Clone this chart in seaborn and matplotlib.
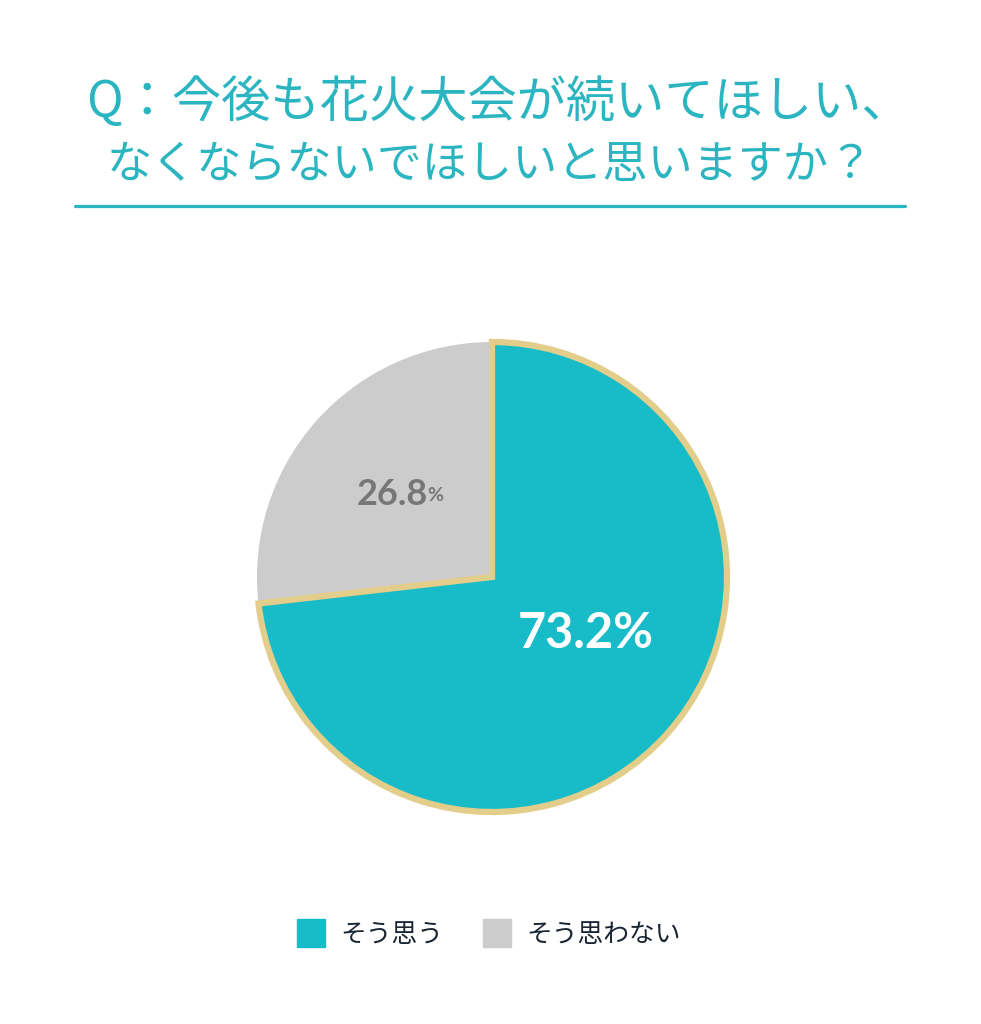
import numpy as np
import seaborn as sns
import matplotlib.pyplot as plt
from matplotlib.lines import Line2D

# donnees du graphique
categories = ['そう思う', 'そう思わない']
valeurs = [73.2, 26.8]
couleurs = ['#17bcc8', '#cccccc']
titre_lignes = ['Q：今後も花火大会が続いてほしい、', 'なくならないでほしいと思いますか？']

sns.set_style('white')
plt.rcParams['font.family'] = ['Noto Sans CJK JP', 'DejaVu Sans']

fig = plt.figure(figsize=(9.81, 10.24), dpi=100)

# titre
fig.text(0.5 + 8 / 981, 1 - 103 / 1024, titre_lignes[0], ha='center', va='center',
         fontsize=35.5, color='#2bb5c0')
fig.text(0.5, 1 - 165 / 1024, titre_lignes[1], ha='center', va='center',
         fontsize=32.5, color='#2bb5c0')
fig.add_artist(Line2D([75 / 981, 905 / 981], [1 - 206 / 1024] * 2,
                      color='#2bb5c0', lw=2.3))

# camembert
ax = fig.add_axes([257 / 981, (1024 - 577 - 235) / 1024, 470 / 981, 470 / 1024])
wedges, _ = ax.pie(valeurs, colors=couleurs, startangle=90, counterclock=False,
                   wedgeprops=dict(linewidth=0))
wedges[0].set_edgecolor('#e2cd8a')
wedges[0].set_linewidth(4.5)
wedges[0].set_zorder(3)
wedges[1].set_zorder(2)
for w in wedges:
    w.set_clip_on(False)
ax.set_xlim(-1, 1)
ax.set_ylim(-1, 1)
ax.set_aspect('equal')

# etiquettes
ax.text(0.40, -0.24, f'{valeurs[0]}%', ha='center', va='center',
        fontsize=35, fontweight='bold', color='white', family='Lato', zorder=5)
ax.text(-0.275, 0.353, f'{valeurs[1]}', ha='right', va='center',
        fontsize=26, fontweight='bold', color='#777777', family='Lato', zorder=5)
ax.text(-0.275, 0.345, '%', ha='left', va='center',
        fontsize=14, fontweight='bold', color='#777777', family='Lato', zorder=5)

# legende
poignees = [Line2D([], [], marker='s', linestyle='', markersize=20,
                   markerfacecolor=c, markeredgecolor=c) for c in couleurs]
fig.legend(poignees, categories, loc='center', bbox_to_anchor=(0.498, 1 - 935 / 1024),
           ncol=2, frameon=False, fontsize=18.5, handlelength=1.1, handletextpad=0.58,
           columnspacing=1.55, labelcolor='#1a2533')

fig.savefig('out.png', dpi=100, facecolor='white')
